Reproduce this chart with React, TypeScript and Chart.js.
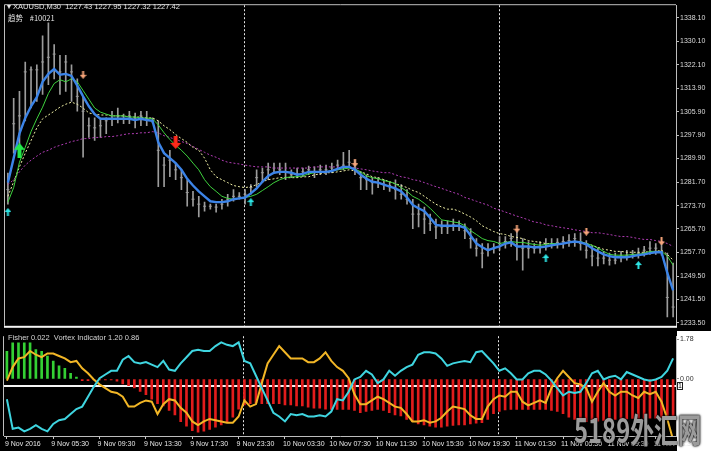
import React, { useEffect, useRef } from 'react';
import { Chart, registerables } from 'chart.js';

Chart.register(...registerables);

const BAR_COUNT = 116;
const TICK_EVERY = 8;
const timeTickLabels = [
  '9 Nov 2016', '9 Nov 05:30', '9 Nov 09:30', '9 Nov 13:30', '9 Nov 17:30', '9 Nov 23:30',
  '10 Nov 03:30', '10 Nov 07:30', '10 Nov 11:30', '10 Nov 15:30', '10 Nov 19:30',
  '11 Nov 01:30', '11 Nov 05:30', '11 Nov 09:30', '11 Nov 13:30',
];
const separatorBars = [41, 85];
const priceTicks = [1338.1, 1330.1, 1322.1, 1313.9, 1305.9, 1297.9, 1289.9, 1281.7, 1273.7, 1265.7, 1257.7, 1249.5, 1241.5, 1233.5];
const fisherTicks = [1.78, 0];
const vortexLevel = 1;

const highs = [
  1284.9, 1310.5, 1312.9, 1323.0, 1321.3, 1322.0, 1332.0, 1336.4, 1329.0, 1325.3,
  1325.3, 1322.0, 1317.2, 1311.2, 1303.8, 1303.8, 1303.5, 1303.8, 1306.1, 1307.2,
  1305.1, 1306.1, 1305.5, 1306.1, 1306.1, 1303.8, 1302.8, 1290.3, 1292.7, 1288.3,
  1286.0, 1282.6, 1278.6, 1276.9, 1274.9, 1274.2, 1274.2, 1275.9, 1277.6, 1279.2,
  1278.2, 1279.2, 1280.9, 1286.0, 1286.6, 1288.3, 1288.3, 1288.3, 1288.3, 1286.0,
  1286.6, 1286.6, 1287.3, 1287.0, 1287.6, 1287.6, 1288.3, 1289.3, 1292.0, 1292.7,
  1289.3, 1285.3, 1284.3, 1283.3, 1283.3, 1282.6, 1281.9, 1282.6, 1280.9, 1279.2,
  1275.9, 1274.2, 1273.2, 1270.8, 1269.1, 1268.5, 1268.5, 1269.1, 1268.5, 1267.5,
  1265.8, 1262.4, 1260.7, 1260.7, 1260.7, 1263.1, 1263.1, 1264.1, 1265.1, 1262.4,
  1261.4, 1260.7, 1261.4, 1262.4, 1262.4, 1262.4, 1263.1, 1263.8, 1264.1, 1264.4,
  1261.7, 1259.7, 1259.1, 1258.0, 1257.4, 1257.4, 1258.0, 1258.4, 1258.4, 1259.1,
  1259.7, 1261.4, 1260.7, 1261.4, 1257.4, 1254.0,
];
const lows = [
  1274.2, 1291.7, 1295.0, 1302.8, 1307.2, 1309.5, 1311.9, 1315.2, 1317.2, 1311.9,
  1312.9, 1309.5, 1306.1, 1290.3, 1297.1, 1296.1, 1297.1, 1298.4, 1301.1, 1302.1,
  1301.8, 1301.8, 1300.4, 1301.1, 1301.1, 1302.1, 1280.2, 1280.2, 1283.6, 1282.6,
  1279.2, 1273.5, 1273.5, 1269.8, 1271.8, 1272.5, 1271.5, 1272.5, 1273.5, 1275.2,
  1275.9, 1274.2, 1277.6, 1280.2, 1281.6, 1282.6, 1285.0, 1284.3, 1282.6, 1283.3,
  1283.3, 1283.6, 1284.3, 1283.3, 1284.3, 1284.3, 1285.0, 1286.0, 1286.0, 1287.0,
  1284.3, 1279.2, 1279.2, 1277.6, 1279.9, 1279.2, 1278.6, 1275.9, 1275.9, 1274.2,
  1265.8, 1266.4, 1264.1, 1265.1, 1262.4, 1264.1, 1264.1, 1265.1, 1265.1, 1262.4,
  1259.1, 1256.4, 1252.3, 1256.4, 1257.4, 1258.4, 1259.1, 1259.7, 1255.0, 1251.6,
  1255.7, 1257.4, 1257.4, 1258.4, 1259.1, 1259.1, 1259.1, 1259.7, 1259.7, 1258.4,
  1255.7, 1253.0, 1253.0, 1253.7, 1253.3, 1253.7, 1254.4, 1255.0, 1255.7, 1255.7,
  1256.4, 1257.0, 1257.0, 1256.7, 1235.5, 1235.5,
];
const closes = [
  1279.2, 1301.8, 1304.5, 1319.6, 1320.3, 1320.3, 1323.0, 1324.6, 1325.7, 1319.6,
  1323.0, 1319.6, 1311.2, 1306.1, 1301.1, 1300.4, 1301.1, 1302.8, 1303.5, 1304.5,
  1303.5, 1304.5, 1303.5, 1304.5, 1303.5, 1302.8, 1292.7, 1287.6, 1289.3, 1286.0,
  1283.3, 1278.2, 1275.9, 1274.2, 1273.5, 1273.5, 1273.2, 1274.2, 1275.9, 1276.9,
  1276.9, 1277.6, 1279.9, 1283.3, 1285.0, 1286.0, 1286.6, 1286.0, 1285.3, 1284.3,
  1284.6, 1285.3, 1286.0, 1285.3, 1286.0, 1286.0, 1286.6, 1287.6, 1287.6, 1288.6,
  1286.6, 1283.3, 1282.6, 1281.6, 1281.6, 1280.9, 1280.6, 1279.2, 1277.6, 1275.9,
  1270.8, 1270.8, 1269.1, 1267.5, 1266.4, 1266.4, 1266.4, 1267.1, 1266.8, 1265.1,
  1262.4, 1259.1, 1257.4, 1258.4, 1259.1, 1260.7, 1261.4, 1262.4, 1259.7, 1259.1,
  1259.1, 1259.1, 1259.7, 1260.7, 1260.7, 1261.1, 1261.4, 1261.7, 1262.4, 1260.7,
  1258.4, 1256.4, 1255.7, 1255.7, 1255.0, 1255.0, 1256.4, 1256.7, 1257.0, 1257.4,
  1258.4, 1259.1, 1259.1, 1258.0, 1242.2, 1238.9,
];
const fastMA = [
  1281.6, 1290.0, 1298.4, 1303.8, 1307.8, 1310.9, 1316.2, 1318.9, 1320.6, 1318.6,
  1318.9, 1318.2, 1314.9, 1311.2, 1307.8, 1305.1, 1303.5, 1303.5, 1303.5, 1303.5,
  1303.5, 1303.5, 1303.1, 1303.5, 1303.1, 1302.8, 1295.4, 1291.7, 1290.0, 1288.3,
  1286.0, 1282.9, 1280.6, 1278.6, 1276.9, 1275.2, 1274.9, 1274.9, 1275.2, 1275.9,
  1276.2, 1276.5, 1277.9, 1279.6, 1281.9, 1283.9, 1285.0, 1285.3, 1285.3, 1285.0,
  1284.3, 1284.6, 1285.3, 1285.3, 1285.3, 1285.3, 1285.6, 1286.3, 1287.0, 1287.0,
  1286.0, 1284.3, 1282.9, 1281.9, 1281.6, 1280.9, 1280.2, 1279.6, 1278.6, 1276.5,
  1273.9, 1272.8, 1271.8, 1269.5, 1267.1, 1266.8, 1266.8, 1266.8, 1266.8, 1266.1,
  1263.4, 1260.7, 1259.4, 1258.4, 1259.1, 1259.7, 1260.7, 1261.1, 1259.7, 1259.7,
  1259.7, 1259.4, 1259.4, 1259.7, 1260.1, 1260.4, 1260.7, 1261.1, 1261.4, 1261.1,
  1260.4, 1259.1, 1258.0, 1257.0, 1256.4, 1256.0, 1256.0, 1256.0, 1256.4, 1256.7,
  1257.0, 1257.4, 1257.7, 1257.7, 1250.6, 1244.6,
];
const midMA = [
  1274.9, 1279.9, 1288.6, 1293.7, 1299.1, 1303.5, 1307.5, 1312.2, 1315.6, 1316.9,
  1316.2, 1317.2, 1316.2, 1313.2, 1310.2, 1307.2, 1305.8, 1305.1, 1304.5, 1304.5,
  1304.5, 1304.1, 1304.1, 1303.8, 1303.8, 1303.5, 1301.4, 1298.7, 1296.4, 1294.4,
  1292.7, 1290.7, 1288.3, 1286.0, 1282.6, 1280.2, 1278.6, 1276.9, 1276.2, 1275.9,
  1276.2, 1276.5, 1276.9, 1277.6, 1278.9, 1280.2, 1281.6, 1282.6, 1283.3, 1283.6,
  1283.6, 1283.9, 1284.6, 1285.0, 1285.3, 1285.3, 1285.6, 1286.0, 1286.3, 1286.6,
  1286.3, 1285.3, 1283.9, 1283.3, 1282.9, 1282.3, 1281.9, 1281.2, 1279.9, 1278.6,
  1276.9, 1275.9, 1274.5, 1272.8, 1270.8, 1268.8, 1268.5, 1268.1, 1267.8, 1266.8,
  1265.1, 1263.8, 1262.4, 1261.7, 1261.4, 1260.7, 1261.1, 1261.4, 1261.1, 1261.1,
  1260.7, 1260.4, 1260.1, 1260.4, 1260.7, 1260.7, 1260.7, 1261.1, 1261.4, 1261.4,
  1260.7, 1260.1, 1259.1, 1258.0, 1257.0, 1256.7, 1256.7, 1256.7, 1257.0, 1257.0,
  1257.4, 1258.0, 1258.0, 1258.0, 1256.4, 1253.3,
];
const slowMA = [
  1276.9, 1281.9, 1287.0, 1291.7, 1296.0, 1300.4, 1303.5, 1304.8, 1306.1, 1307.5,
  1308.5, 1309.2, 1308.5, 1307.2, 1305.5, 1305.1, 1304.8, 1304.8, 1304.5, 1304.5,
  1304.5, 1304.1, 1304.1, 1304.1, 1303.8, 1303.8, 1302.8, 1301.1, 1299.8, 1298.1,
  1296.7, 1295.4, 1293.7, 1292.7, 1290.0, 1286.0, 1283.6, 1282.6, 1281.6, 1280.6,
  1280.2, 1279.9, 1280.2, 1280.9, 1281.9, 1282.6, 1282.9, 1283.3, 1283.3, 1283.3,
  1283.3, 1283.6, 1283.6, 1284.3, 1284.6, 1285.0, 1285.0, 1285.3, 1285.6, 1286.0,
  1285.6, 1285.3, 1284.6, 1283.6, 1283.3, 1282.6, 1281.9, 1281.2, 1280.6, 1279.9,
  1278.9, 1278.2, 1276.9, 1275.5, 1274.2, 1273.2, 1272.5, 1272.5, 1271.8, 1270.8,
  1269.8, 1268.5, 1266.8, 1265.8, 1264.8, 1264.1, 1263.8, 1263.1, 1262.8, 1262.4,
  1261.7, 1261.4, 1261.1, 1260.7, 1260.7, 1260.7, 1260.7, 1261.1, 1261.4, 1261.1,
  1260.7, 1260.1, 1259.4, 1258.7, 1258.4, 1258.0, 1258.0, 1257.7, 1257.7, 1257.7,
  1257.7, 1258.0, 1258.0, 1258.4, 1257.0, 1255.0,
];
const trendMA = [
  1280.9, 1282.6, 1285.3, 1287.6, 1289.3, 1290.7, 1292.0, 1292.7, 1293.7, 1294.4,
  1295.0, 1295.7, 1296.1, 1296.7, 1296.7, 1297.1, 1297.1, 1297.4, 1297.4, 1297.7,
  1298.1, 1298.4, 1298.4, 1298.7, 1298.7, 1299.1, 1298.7, 1297.7, 1297.1, 1296.4,
  1295.7, 1295.0, 1294.0, 1293.0, 1292.0, 1291.0, 1290.3, 1289.3, 1288.6, 1288.3,
  1288.0, 1287.6, 1287.3, 1287.0, 1287.0, 1287.0, 1286.6, 1286.6, 1286.6, 1286.6,
  1286.6, 1286.6, 1286.6, 1287.0, 1287.0, 1287.0, 1287.0, 1287.0, 1287.0, 1287.0,
  1286.6, 1286.3, 1286.0, 1285.6, 1285.3, 1285.0, 1285.0, 1284.3, 1283.6, 1283.3,
  1282.6, 1282.3, 1281.6, 1280.9, 1280.2, 1279.6, 1278.9, 1278.2, 1277.6, 1276.5,
  1275.9, 1275.2, 1274.5, 1273.9, 1272.8, 1272.2, 1271.5, 1270.8, 1270.1, 1269.5,
  1268.8, 1268.1, 1267.8, 1267.1, 1266.8, 1266.4, 1266.1, 1265.8, 1265.4, 1265.1,
  1264.8, 1264.4, 1264.4, 1264.1, 1263.8, 1263.4, 1263.1, 1263.1, 1262.8, 1262.4,
  1262.1, 1262.1, 1261.7, 1261.4, 1260.7, 1259.7,
];

const bigBuyBars = [2];
const bigBuyPrices = [1292.7];
const bigSellBars = [29];
const bigSellPrices = [1295.4];
const smallBuyBars = [0, 42, 93, 109];
const smallBuyPrices = [1271.5, 1274.9, 1255.7, 1253.3];
const smallSellBars = [13, 60, 88, 100, 113];
const smallSellPrices = [1318.6, 1288.3, 1265.8, 1264.8, 1261.4];

const fisher = [
  1.23, 1.61, 1.61, 1.61, 1.61, 1.31, 1.23, 1.02, 0.8, 0.59,
  0.47, 0.25, 0.08, -0.08, -0.08, -0.04, -0.04, -0.04, -0.04, -0.1,
  -0.22, -0.3, -0.4, -0.55, -0.7, -0.9, -1.1, -1.2, -1.4, -1.6,
  -1.9, -2.1, -2.3, -2.37, -2.33, -2.25, -2.15, -2.05, -1.9, -1.7,
  -1.35, -1.15, -1.1, -1.06, -1.1, -1.1, -1.1, -1.1, -1.15, -1.15,
  -1.2, -1.2, -1.25, -1.3, -1.3, -1.35, -1.36, -1.36, -1.36, -1.36,
  -1.4, -1.5, -1.45, -1.4, -1.36, -1.4, -1.5, -1.6, -1.65, -1.8,
  -1.9, -2.0, -2.05, -2.1, -2.15, -2.15, -2.1, -2.07, -2.05, -2.05,
  -2.0, -1.97, -1.95, -1.8, -1.55, -1.45, -1.38, -1.36, -1.36, -1.36,
  -1.36, -1.36, -1.36, -1.36, -1.4, -1.45, -1.55, -1.7, -1.8, -1.87,
  -1.9, -1.9, -1.88, -1.85, -1.82, -1.8, -1.78, -1.78, -1.76, -1.76,
  -1.76, -1.75, -1.75, -1.75, -1.75, -1.75,
];
const vortexPlus = [
  0.89, 0.65, 0.66, 0.63, 0.65, 0.68, 0.65, 0.63, 0.69, 0.72,
  0.73, 0.77, 0.81, 0.83, 0.91, 0.99, 1.06, 1.09, 1.12, 1.12,
  1.21, 1.24, 1.19, 1.18, 1.19, 1.17, 1.15, 1.2, 1.13, 1.12,
  1.18, 1.23, 1.28, 1.29, 1.28, 1.28, 1.32, 1.35, 1.33, 1.32,
  1.35, 1.2, 1.18, 1.08, 0.98, 0.88, 0.78, 0.75, 0.71, 0.77,
  0.76, 0.77, 0.75, 0.75, 0.76, 0.75, 0.79, 0.89, 0.88, 0.95,
  1.05, 1.07, 1.12, 1.09, 1.02, 1.05, 1.12, 1.08, 1.12, 1.15,
  1.17, 1.25, 1.27, 1.27, 1.26, 1.22, 1.16, 1.18, 1.19, 1.2,
  1.19, 1.27, 1.28, 1.23, 1.18, 1.12, 1.14, 1.1, 1.05, 1.05,
  1.1, 1.12, 1.12, 1.09, 1.04, 0.98, 0.92, 0.95, 0.94, 0.95,
  1.02, 1.1, 1.12, 1.05, 1.07, 1.08, 1.05, 1.11, 1.09, 1.07,
  1.05, 1.04, 1.05, 1.07, 1.12, 1.22,
];
const vortexMinus = [
  1.04, 1.15, 1.22, 1.23, 1.28, 1.25, 1.23, 1.26, 1.26, 1.24,
  1.22, 1.19, 1.2, 1.14, 1.1, 1.05, 1.01, 0.98, 0.95, 0.94,
  0.91, 0.83, 0.83, 0.86, 0.88, 0.87, 0.77, 0.85, 0.89, 0.88,
  0.82, 0.78, 0.71, 0.68, 0.71, 0.73, 0.72, 0.71, 0.7, 0.7,
  0.75, 0.88, 0.83, 0.85, 1.02, 1.18, 1.25, 1.32, 1.27, 1.22,
  1.22, 1.22, 1.19, 1.19, 1.22, 1.27, 1.2, 1.15, 1.12, 1.06,
  0.93, 0.85, 0.85, 0.88, 0.91, 0.89, 0.86, 0.83, 0.82, 0.77,
  0.71, 0.71, 0.72, 0.7, 0.71, 0.74, 0.79, 0.83, 0.82, 0.81,
  0.76, 0.73, 0.73, 0.83, 0.89, 0.92, 0.91, 0.95, 0.95, 0.87,
  0.84, 0.86, 0.88, 0.86, 0.98, 1.06, 1.12, 1.07, 1.02, 1.01,
  0.98, 0.87, 0.95, 1.02, 0.95, 0.92, 0.95, 0.95, 0.92, 0.9,
  0.95, 0.93, 0.95, 0.87, 0.73, 0.56,
];

const FONT = 'Liberation Sans, Arial, sans-serif';

function makeArrow(color: string, w: number, h: number, head: number, shaft: number, down: boolean) {
  const c = document.createElement('canvas');
  c.width = w;
  c.height = h;
  const g = c.getContext('2d')!;
  g.fillStyle = color;
  if (down) {
    g.translate(0, h);
    g.scale(1, -1);
  }
  g.beginPath();
  g.moveTo(w / 2, 0);
  g.lineTo(w, head);
  g.lineTo(w / 2 + shaft / 2, head);
  g.lineTo(w / 2 + shaft / 2, h);
  g.lineTo(w / 2 - shaft / 2, h);
  g.lineTo(w / 2 - shaft / 2, head);
  g.lineTo(0, head);
  g.closePath();
  g.fill();
  return c;
}

function sparse(bars: number[], prices: number[]) {
  const out: (number | null)[] = Array(BAR_COUNT).fill(null);
  bars.forEach((b, k) => { out[b] = prices[k]; });
  return out;
}

const separatorPlugin = {
  id: 'separators',
  beforeDatasetsDraw(chart: any) {
    const { ctx, chartArea: a, scales } = chart;
    ctx.save();
    ctx.strokeStyle = '#e6e6e6';
    ctx.lineWidth = 1;
    ctx.setLineDash([2, 2]);
    separatorBars.forEach((b) => {
      const px = Math.round(scales.x.getPixelForValue(b)) - 0.5;
      ctx.beginPath();
      ctx.moveTo(px, a.top);
      ctx.lineTo(px, a.bottom);
      ctx.stroke();
    });
    ctx.restore();
  },
};

const topFramePlugin = {
  id: 'topFrame',
  afterDraw(chart: any) {
    const { ctx, chartArea: a } = chart;
    ctx.save();
    ctx.strokeStyle = '#bdbdbd';
    ctx.lineWidth = 1;
    ctx.beginPath();
    ctx.moveTo(a.left - 0.5, a.bottom);
    ctx.lineTo(a.left - 0.5, a.top - 0.5);
    ctx.lineTo(a.right, a.top - 0.5);
    ctx.stroke();
    ctx.fillStyle = '#f4f4f4';
    ctx.fillRect(a.left - 1, a.bottom, a.right - a.left + 2, 2);
    ctx.restore();
  },
};

const bottomFramePlugin = {
  id: 'bottomFrame',
  beforeDatasetsDraw(chart: any) {
    const { ctx, chartArea: a, scales } = chart;
    const y = Math.round(scales.v.getPixelForValue(vortexLevel));
    ctx.save();
    ctx.fillStyle = '#f4f4f4';
    ctx.fillRect(a.left, y - 1, a.right - a.left, 2);
    ctx.restore();
  },
  afterDraw(chart: any) {
    const { ctx, chartArea: a, scales } = chart;
    const y = Math.round(scales.v.getPixelForValue(vortexLevel));
    ctx.save();
    ctx.strokeStyle = '#bdbdbd';
    ctx.lineWidth = 1;
    ctx.beginPath();
    ctx.moveTo(a.left - 0.5, a.bottom);
    ctx.lineTo(a.left - 0.5, a.top);
    ctx.stroke();
    ctx.fillStyle = '#ffffff';
    ctx.fillRect(a.right + 1, y - 4, 6, 8);
    ctx.strokeStyle = '#202020';
    ctx.strokeRect(a.right + 1.5, y - 3.5, 5, 7);
    ctx.fillStyle = '#000000';
    ctx.font = '7px ' + FONT;
    ctx.textAlign = 'center';
    ctx.textBaseline = 'middle';
    ctx.fillText(String(vortexLevel), a.right + 4, y + 0.5);
    ctx.restore();
  },
};

export default function App() {
  const topRef = useRef<HTMLCanvasElement>(null);
  const botRef = useRef<HTMLCanvasElement>(null);

  useEffect(() => {
    const labels = Array.from({ length: BAR_COUNT }, (_, i) => String(i));
    const greenUp = makeArrow('#22e84a', 11, 15, 7, 4, false);
    const redDown = makeArrow('#ff2a1a', 11, 13, 6, 4, true);
    const cyanUp = makeArrow('#2ee6e6', 7, 8, 4, 2, false);
    const salmonDown = makeArrow('#f7a57a', 7, 8, 4, 2, true);

    const arrowSet = (data: (number | null)[], img: HTMLCanvasElement) => ({
      type: 'line' as const,
      data,
      showLine: false,
      pointStyle: img,
      pointRadius: 3,
      order: 0,
    });

    const top = new Chart(topRef.current!, {
      type: 'bar',
      data: {
        labels,
        datasets: [
          arrowSet(sparse(bigBuyBars, bigBuyPrices), greenUp),
          arrowSet(sparse(bigSellBars, bigSellPrices), redDown),
          arrowSet(sparse(smallBuyBars, smallBuyPrices), cyanUp),
          arrowSet(sparse(smallSellBars, smallSellPrices), salmonDown),
          { type: 'line', data: fastMA, borderColor: '#3c84e8', borderWidth: 2.4, pointRadius: 0, order: 1 },
          { type: 'line', data: midMA, borderColor: '#3ed23e', borderWidth: 1, pointRadius: 0, order: 2 },
          { type: 'line', data: slowMA, borderColor: '#f0f0a6', borderWidth: 1, borderDash: [2, 2], pointRadius: 0, order: 3 },
          { type: 'line', data: trendMA, borderColor: '#b03cb4', borderWidth: 1, borderDash: [2, 2], pointRadius: 0, order: 4 },
          {
            type: 'line', data: closes, showLine: false, pointStyle: 'line', pointRadius: 1.5,
            borderColor: '#9c9c9c', pointBorderColor: '#9c9c9c', pointBorderWidth: 1, order: 8,
          },
          {
            type: 'bar', data: lows.map((l, i) => [l, highs[i]]) as any,
            backgroundColor: '#9c9c9c', barThickness: 1, order: 9,
          },
        ] as any,
      },
      options: {
        animation: false,
        responsive: false,
        events: [],
        layout: { padding: { left: 4, top: 2, bottom: 2, right: 0 } },
        plugins: { legend: { display: false }, tooltip: { enabled: false } },
        scales: {
          x: { display: false, offset: true },
          y: {
            position: 'right',
            min: 1232.47,
            max: 1342.48,
            afterBuildTicks: (s: any) => { s.ticks = priceTicks.map((v) => ({ value: v })); },
            afterFit: (s: any) => { s.width = 35; },
            ticks: {
              color: '#dcdcdc',
              font: { family: FONT, size: 7 },
              padding: 1,
              callback: (v: any) => Number(v).toFixed(2),
            },
            grid: { drawOnChartArea: false, tickLength: 3, color: '#bdbdbd' },
            border: { color: '#bdbdbd' },
          },
        },
      } as any,
      plugins: [separatorPlugin, topFramePlugin],
    });

    const bot = new Chart(botRef.current!, {
      type: 'bar',
      data: {
        labels,
        datasets: [
          { type: 'line', data: vortexMinus, yAxisID: 'v', borderColor: '#f2b626', borderWidth: 2, pointRadius: 0, order: 1 },
          { type: 'line', data: vortexPlus, yAxisID: 'v', borderColor: '#3fd5e0', borderWidth: 2, pointRadius: 0, order: 0 },
          {
            type: 'bar', data: fisher, yAxisID: 'y',
            backgroundColor: fisher.map((v) => (v >= 0 ? '#34d034' : '#e21c1c')),
            barThickness: 2, order: 5,
          },
        ] as any,
      },
      options: {
        animation: false,
        responsive: false,
        events: [],
        layout: { padding: { left: 4, top: 0, bottom: 0, right: 0 } },
        plugins: { legend: { display: false }, tooltip: { enabled: false } },
        scales: {
          x: {
            offset: true,
            afterFit: (s: any) => { s.height = 23; },
            grid: {
              offset: false,
              drawOnChartArea: false,
              tickLength: 3,
              color: (c: any) => (c.index % TICK_EVERY === 0 ? '#c8c8c8' : 'rgba(0,0,0,0)'),
            },
            border: { color: '#bdbdbd' },
            ticks: {
              autoSkip: false,
              maxRotation: 0,
              align: 'start',
              labelOffset: -2,
              color: '#e6e6e6',
              padding: 1,
              font: { family: FONT, size: 7 },
              callback: (_v: any, i: number) => (i % TICK_EVERY === 0 ? timeTickLabels[i / TICK_EVERY] ?? '' : ''),
            },
          },
          y: {
            position: 'right',
            min: -2.54,
            max: 1.907,
            afterBuildTicks: (s: any) => { s.ticks = fisherTicks.map((v) => ({ value: v })); },
            afterFit: (s: any) => { s.width = 35; },
            ticks: {
              color: '#303030',
              font: { family: FONT, size: 7 },
              padding: 1,
              callback: (v: any) => Number(v).toFixed(2),
            },
            grid: { drawOnChartArea: false, tickLength: 3, color: '#909090' },
            border: { color: '#bdbdbd' },
          },
          v: { display: false, min: 0.592, max: 1.4 },
        },
      } as any,
      plugins: [separatorPlugin, bottomFramePlugin],
    });

    return () => {
      top.destroy();
      bot.destroy();
    };
  }, []);

  const text: React.CSSProperties = {
    position: 'absolute',
    fontFamily: FONT,
    fontSize: 7.5,
    color: '#e4e4e4',
    whiteSpace: 'pre',
    lineHeight: 1,
  };

  return (
    <div style={{ position: 'fixed', left: 0, top: 0, width: 711, height: 459, background: '#000', overflow: 'hidden' }}>
      <div style={{ position: 'absolute', left: 677, top: 331, width: 34, height: 128, background: '#fff' }} />
      <div style={{ position: 'absolute', left: 0, top: 451, width: 711, height: 8, background: '#fff' }} />
      <canvas ref={topRef} width={711} height={331} style={{ position: 'absolute', left: 0, top: 0, width: 711, height: 331 }} />
      <canvas ref={botRef} width={711} height={128} style={{ position: 'absolute', left: 0, top: 331, width: 711, height: 128 }} />
      <div style={{ ...text, left: 7, top: 3 }}>{'▾ XAUUSD,M30  1227.43 1227.95 1227.32 1227.42'}</div>
      <div style={{ ...text, left: 8, top: 14, fontFamily: 'Noto Sans CJK SC, ' + FONT }}>{'趋势    #10021'}</div>
      <div style={{ ...text, left: 8, top: 334, color: '#d4d4d4' }}>{'Fisher 0.022  Vortex Indicator 1.20 0.86'}</div>
      <div
        style={{
          position: 'absolute', left: 574, top: 412, fontSize: 34, fontWeight: 700, color: '#9b9b9b',
          fontFamily: 'Noto Sans CJK SC, ' + FONT, transform: 'scaleX(0.7)', transformOrigin: 'left top',
          whiteSpace: 'pre', lineHeight: 1, textShadow: '0 0 3px #000, 0 0 2px #000',
        }}
      >
        {'5189外汇网'}
      </div>
    </div>
  );
}
